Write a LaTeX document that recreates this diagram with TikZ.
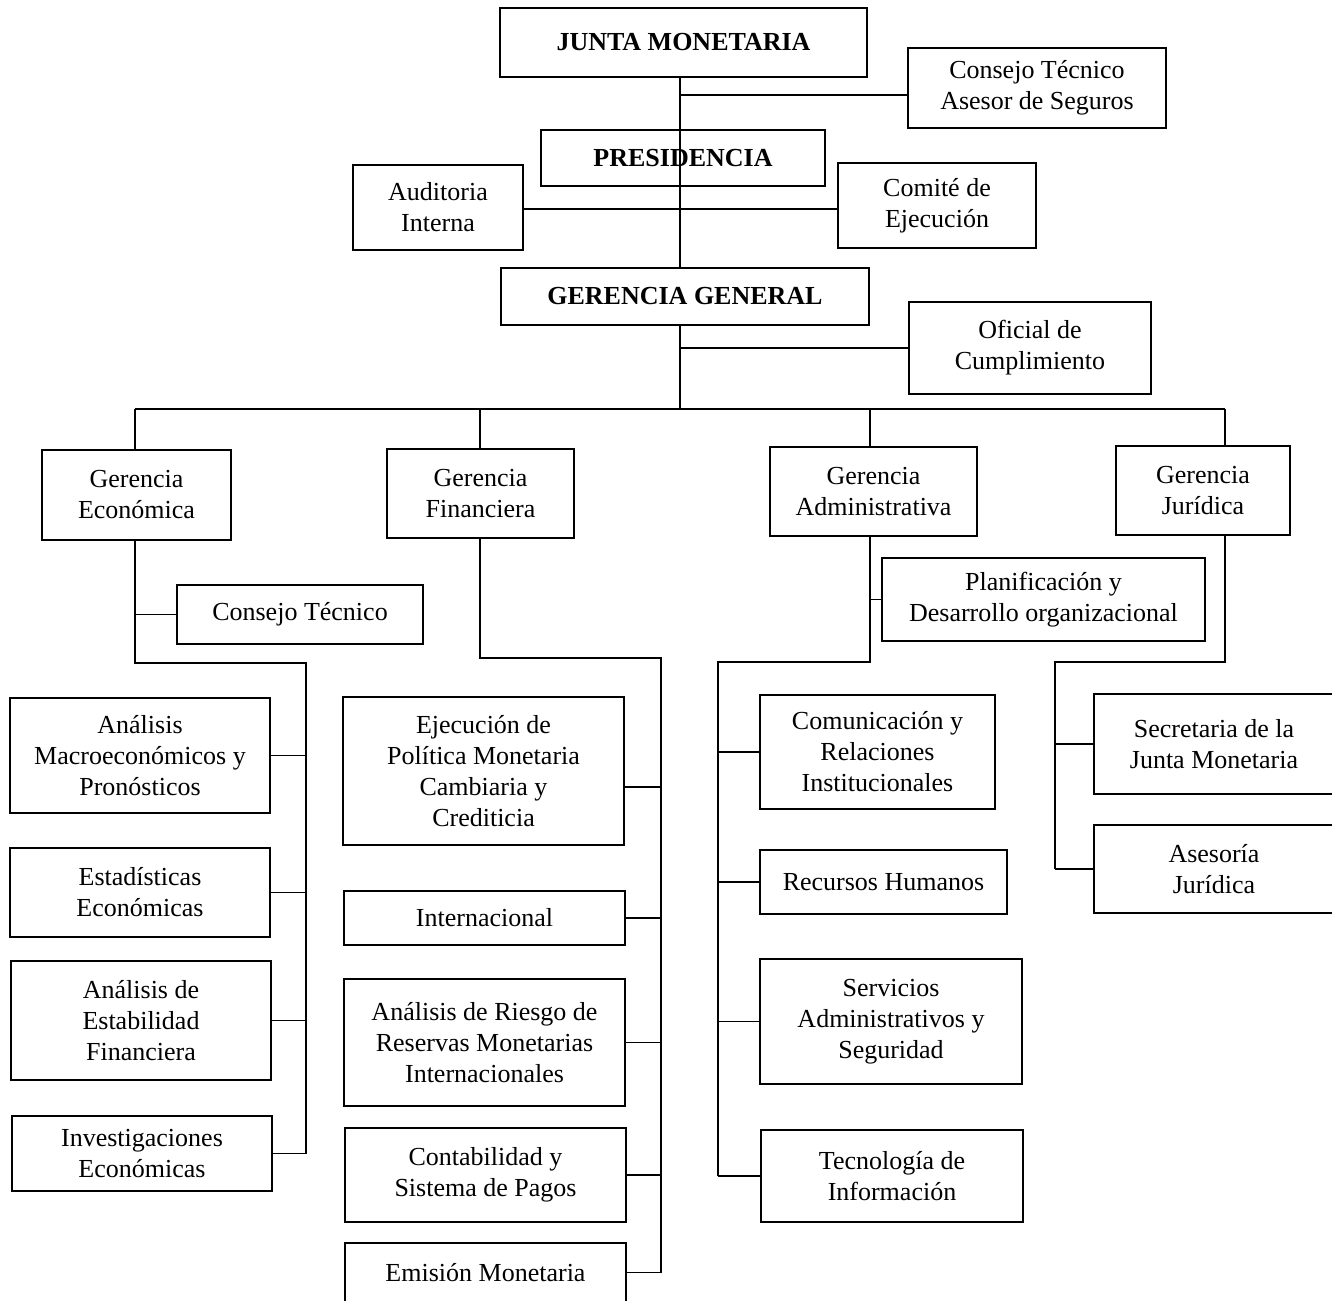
\documentclass[tikz,border=0pt]{standalone}
\usepackage{fontspec}
\setmainfont{Liberation Serif}
\tikzset{
  box/.style={draw, line width=0.8pt, inner sep=0pt, align=center,
    font=\fontsize{13}{15.5}\selectfont},
  head/.style={box, font=\fontsize{13}{15.5}\selectfont\bfseries},
  link/.style={line width=0.8pt}
}
\begin{document}
\begin{tikzpicture}[x=0.5pt, y=-0.5pt]
  \clip (0,0) rectangle (1332,1300);
  % top levels
  \node[head, minimum width=183.5pt, minimum height=34.5pt] (junta) at (683.5,42.5) {JUNTA MONETARIA};
  \node[box, minimum width=129pt, minimum height=40pt] (cta) at (1037,88) {Consejo Técnico\\Asesor de Seguros};
  \node[head, minimum width=142pt, minimum height=28pt] (pres) at (683,158) {PRESIDENCIA};
  \node[box, minimum width=85pt, minimum height=42.5pt] (audit) at (438,207.5) {Auditoria\\Interna};
  \node[box, minimum width=99pt, minimum height=42.5pt] (comite) at (937,205.5) {Comité de\\Ejecución};
  \node[head, minimum width=184pt, minimum height=28.5pt] (gg) at (685,296.5) {GERENCIA GENERAL};
  \node[box, minimum width=121pt, minimum height=46pt] (oficial) at (1030,348) {Oficial de\\Cumplimiento};
  % gerencias
  \node[box, minimum width=94.5pt, minimum height=45pt] (geco) at (136.5,495) {Gerencia\\Económica};
  \node[box, minimum width=93.5pt, minimum height=44.5pt] (gfin) at (480.5,493.5) {Gerencia\\Financiera};
  \node[box, minimum width=103.5pt, minimum height=44.5pt] (gadm) at (873.5,491.5) {Gerencia\\Administrativa};
  \node[box, minimum width=87pt, minimum height=44.5pt] (gjur) at (1203,490.5) {Gerencia\\Jurídica};
  % economica
  \node[box, minimum width=123pt, minimum height=29.5pt] (ctec) at (300,614.5) {Consejo Técnico};
  \node[box, minimum width=130pt, minimum height=57.5pt] (macro) at (140,755.5) {Análisis\\Macroeconómicos y\\Pronósticos};
  \node[box, minimum width=130pt, minimum height=44.5pt] (estad) at (140,892.5) {Estadísticas\\Económicas};
  \node[box, minimum width=130pt, minimum height=59.5pt] (estab) at (141,1020.5) {Análisis de\\Estabilidad\\Financiera};
  \node[box, minimum width=130pt, minimum height=37.5pt] (invest) at (142,1153.5) {Investigaciones\\Económicas};
  % financiera
  \node[box, minimum width=140.5pt, minimum height=74pt] (ejec) at (483.5,771) {Ejecución de\\Política Monetaria\\Cambiaria y\\Crediticia};
  \node[box, minimum width=140.5pt, minimum height=27pt] (inter) at (484.5,918) {Internacional};
  \node[box, minimum width=140.5pt, minimum height=63.5pt] (riesgo) at (484.5,1042.5) {Análisis de Riesgo de\\Reservas Monetarias\\Internacionales};
  \node[box, minimum width=140.5pt, minimum height=47pt] (conta) at (485.5,1175) {Contabilidad y\\Sistema de Pagos};
  \node[box, minimum width=140.5pt, minimum height=29.5pt] (emis) at (485.5,1272.5) {Emisión Monetaria};
  % administrativa
  \node[box, minimum width=161.5pt, minimum height=41.5pt] (plan) at (1043.5,599.5) {Planificación y\\Desarrollo organizacional};
  \node[box, minimum width=117.5pt, minimum height=57pt] (comun) at (877.5,752) {Comunicación y\\Relaciones\\Institucionales};
  \node[box, minimum width=123.5pt, minimum height=32pt] (rrhh) at (883.5,882) {Recursos Humanos};
  \node[box, minimum width=131pt, minimum height=62.5pt] (serv) at (891,1021.5) {Servicios\\Administrativos y\\Seguridad};
  \node[box, minimum width=131pt, minimum height=46pt] (tecno) at (892,1176) {Tecnología de\\Información};
  % juridica
  \node[box, minimum width=120pt, minimum height=50pt] (secre) at (1214,744) {Secretaria de la\\Junta Monetaria};
  \node[box, minimum width=120pt, minimum height=44pt] (aseso) at (1214,869) {Asesoría\\Jurídica};

  \coordinate (ja) at (680,95);
  \coordinate (pa) at (680,209);
  \coordinate (bus) at (680,409);
  \coordinate (be) at (135,409);
  \coordinate (bf) at (480,409);
  \coordinate (ba) at (870,409);
  \coordinate (bj) at (1225,409);
  \coordinate (e1) at (135,663);
  \coordinate (e2) at (306,663);
  \coordinate (f1) at (480,658);
  \coordinate (f2) at (661,658);
  \coordinate (a1) at (870,662);
  \coordinate (a2) at (718,662);
  \coordinate (j1) at (1225,662);
  \coordinate (j2) at (1055,662);

  \begin{scope}[link]
    \draw (junta.south -| bus) -- (gg.north -| bus);
    \draw (ja) -- (cta.west |- ja);
    \draw (audit.east |- pa) -- (comite.west |- pa);
    \draw (gg.south -| bus) -- (bus);
    \draw (oficial.west) -- (oficial.west -| bus);
    \draw (be) -- (bj);
    \draw (be) -- (geco.north -| be);
    \draw (bf) -- (gfin.north -| bf);
    \draw (ba) -- (gadm.north -| ba);
    \draw (bj) -- (gjur.north -| bj);
    % economica
    \draw (geco.south -| e1) -- (e1) -- (e2) -- (e2 |- invest.east);
    \draw (ctec.west) -- (ctec.west -| e1);
    \foreach \n in {macro,estad,estab,invest}
      \draw (\n.east) -- (\n.east -| e2);
    % financiera
    \draw (gfin.south -| f1) -- (f1) -- (f2) -- (f2 |- emis.east);
    \draw ([yshift=-8pt]ejec.east) -- ([yshift=-8pt]ejec.east -| f2);
    \foreach \n in {inter,riesgo,conta,emis}
      \draw (\n.east) -- (\n.east -| f2);
    % administrativa
    \draw (gadm.south -| a1) -- (a1) -- (a2) -- (a2 |- tecno.west);
    \draw (plan.west) -- (plan.west -| a1);
    \foreach \n in {comun,rrhh,serv,tecno}
      \draw (\n.west) -- (\n.west -| a2);
    % juridica
    \draw (gjur.south -| j1) -- (j1) -- (j2) -- (j2 |- aseso.west);
    \foreach \n in {secre,aseso}
      \draw (\n.west) -- (\n.west -| j2);
  \end{scope}
\end{tikzpicture}
\end{document}
